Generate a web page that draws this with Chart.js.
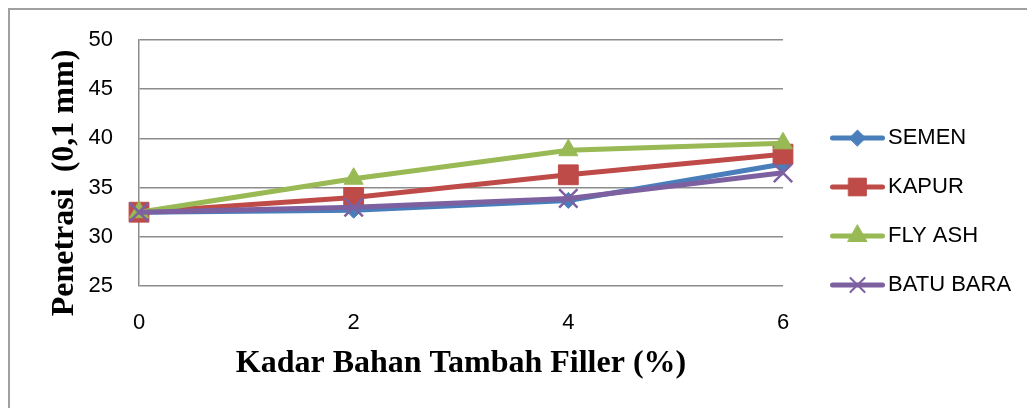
<!DOCTYPE html>
<html>
<head>
<meta charset="utf-8">
<script src="https://cdn.jsdelivr.net/npm/chart.js@4"></script>
<style>
html, body { margin: 0; padding: 0; background: #fff; }
#bingkai { position: absolute; left: 8px; top: 8px; width: 1100px; height: 500px;
  border-top: 2px solid #a0a0a0; border-left: 2px solid #a0a0a0; }
#wadah { position: absolute; left: 0; top: 0; width: 1027px; height: 408px; }
</style>
</head>
<body>
<div id="bingkai"></div>
<div id="wadah"><canvas id="grafikPenetrasi"></canvas></div>
<script>
// data
const kadarFiller = ['0', '2', '4', '6'];
const semen = [32.5, 32.7, 33.7, 37.4];
const kapur = [32.5, 34.0, 36.3, 38.4];
const flyAsh = [32.5, 35.9, 38.8, 39.5];
const batuBara = [32.5, 33.0, 33.9, 36.5];
const namaSeri = ['SEMEN', 'KAPUR', 'FLY ASH', 'BATU BARA'];

const warna = ['#4A7EBB', '#BE4B48', '#98B954', '#7D60A0'];
const marker = ['rectRot', 'rect', 'triangle', 'crossRot'];
const ukuranMarker = [8, 14, 11, 13];

// ikon legenda: garis + marker di tengah
function ikonLegenda(i) {
    const c = document.createElement('canvas');
    c.width = 83; c.height = 30;
    const g = c.getContext('2d');
    g.strokeStyle = warna[i];
    g.fillStyle = warna[i];
    g.lineWidth = 5;
    g.lineCap = 'round';
    g.beginPath();
    g.moveTo(30.5, 15);
    g.lineTo(80.5, 15);
    g.stroke();
    g.lineWidth = marker[i] === 'crossRot' ? 2 : 1;
    const r = marker[i] === 'crossRot' ? 10 : (marker[i] === 'rect' ? 12.5 : ukuranMarker[i]);
    Chart.helpers.drawPoint(g, { pointStyle: marker[i], radius: r, rotation: 0, borderWidth: g.lineWidth }, 55.5, 15);
    return c;
}

const dataSeri = [semen, kapur, flyAsh, batuBara];

const lebarLegenda = {
    id: 'lebarLegenda',
    afterInit(chart) {
        const lg = chart.legend;
        if (lg && !lg._dipatch) {
            const fitAsli = lg.fit;
            lg.fit = function () { fitAsli.call(this); this.width = 244; };
            lg._dipatch = true;
        }
    }
};

document.addEventListener('DOMContentLoaded', function () {
    const ctx = document.getElementById('grafikPenetrasi').getContext('2d');
    new Chart(ctx, {
        type: 'line',
        data: {
            labels: kadarFiller,
            datasets: dataSeri.map((d, i) => ({
                label: namaSeri[i],
                data: d,
                borderColor: warna[i],
                backgroundColor: warna[i],
                borderWidth: 5,
                tension: 0,
                pointStyle: marker[i],
                pointRadius: ukuranMarker[i],
                pointHoverRadius: ukuranMarker[i],
                pointBorderWidth: marker[i] === 'crossRot' ? 2.5 : 1,
                order: 3 - i // seri terakhir digambar paling atas
            }))
        },
        options: {
            responsive: true,
            maintainAspectRatio: false,
            animation: false,
            layout: { padding: { left: 46, top: 40, right: 0, bottom: 25 } },
            plugins: {
                tooltip: { enabled: false },
                legend: {
                    position: 'right',
                    align: 'center',
                    labels: {
                        usePointStyle: true,
                        pointStyleWidth: 67,
                        padding: 27,
                        color: '#000',
                        font: { family: 'Liberation Sans', size: 22 },
                        generateLabels: (chart) =>
                            Chart.defaults.plugins.legend.labels.generateLabels(chart)
                                .map((item) => ({ ...item, pointStyle: ikonLegenda(item.datasetIndex) })),
                        sort: (a, b) => a.datasetIndex - b.datasetIndex
                    }
                }
            },
            scales: {
                x: {
                    offset: false,
                    grid: { display: false, drawTicks: false },
                    border: { display: false },
                    ticks: {
                        color: '#000',
                        padding: 24,
                        font: { family: 'Liberation Sans', size: 22 }
                    },
                    title: {
                        display: true,
                        text: 'Kadar Bahan Tambah Filler (%)',
                        color: '#000',
                        padding: 0,
                        font: { family: 'Liberation Serif', size: 32, weight: 'bold' }
                    },
                    afterFit: (scale) => { scale.height = 97; }
                },
                y: {
                    min: 25,
                    max: 50,
                    ticks: {
                        stepSize: 5,
                        color: '#000',
                        padding: 26,
                        font: { family: 'Liberation Sans', size: 22 }
                    },
                    grid: { color: '#8c8c8c', lineWidth: 1.5, drawTicks: false },
                    border: { display: true, color: '#8c8c8c', width: 1.5 },
                    title: {
                        display: true,
                        text: 'Penetrasi  (0,1 mm)     ',
                        color: '#000',
                        padding: 0,
                        font: { family: 'Liberation Serif', size: 32, weight: 'bold' }
                    },
                    afterFit: (scale) => { scale.width = 93; }
                }
            }
        },
        plugins: [lebarLegenda]
    });
});
</script>
</body>
</html>
